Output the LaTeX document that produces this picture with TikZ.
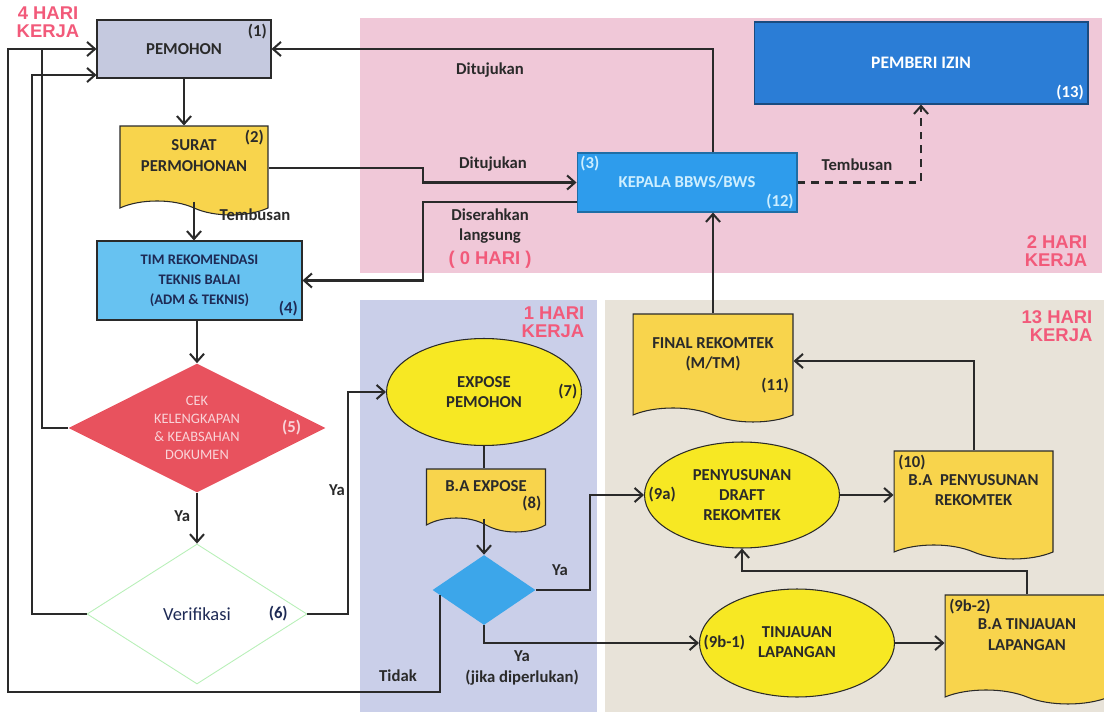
\documentclass[tikz,border=0pt]{standalone}
\usepackage{fontspec}
\setmainfont{Carlito}
\newfontfamily\harifont{Liberation Sans Bold}
\usetikzlibrary{shapes.geometric,shapes.symbols,arrows.meta}
\definecolor{pinkbg}{HTML}{F0C8D8}
\definecolor{lavbg}{HTML}{CACFE9}
\definecolor{beigebg}{HTML}{E8E3D9}
\definecolor{pemfill}{HTML}{C5C9DF}
\definecolor{docyel}{HTML}{F8D44C}
\definecolor{ovalyel}{HTML}{F7E823}
\definecolor{timblue}{HTML}{67C2F1}
\definecolor{kepblue}{HTML}{2E9CEC}
\definecolor{keptext}{HTML}{CDEEFF}
\definecolor{izinblue}{HTML}{2B7DD6}
\definecolor{cekred}{HTML}{E8525E}
\definecolor{cektext}{HTML}{F9D3D8}
\definecolor{diablue}{HTML}{3CA6EA}
\definecolor{verline}{HTML}{B8F0B8}
\definecolor{harired}{HTML}{F25A7A}
\definecolor{navy}{HTML}{1E2A55}
\definecolor{ink}{HTML}{2A2A2A}
\begin{document}
\begin{tikzpicture}[x=0.02cm,y=-0.02cm,
    box/.style={draw=ink,line width=0.6pt,align=center,inner sep=2pt,
      font=\bfseries\fontsize{9.5}{11.5}\selectfont,text=ink},
    doc/.style={box,tape,tape bend top=none,tape bend bottom=out and in,
      tape bend height=0.28cm,fill=docyel,text depth=9pt},
    oval/.style={box,ellipse,inner sep=0pt,fill=ovalyel},
    num/.style={font=\bfseries\fontsize{9.5}{11}\selectfont,inner sep=2.5pt,text=ink},
    lbl/.style={font=\bfseries\fontsize{9.5}{11.5}\selectfont,align=center,text=ink},
    hari/.style={font=\harifont\fontsize{10.5}{10}\selectfont,text=harired},
    link/.style={draw=ink,line width=1.15pt},
    arr/.style={link,-{Straight Barb[length=4.5pt,width=8pt]}}]
  \useasboundingbox (0,0) rectangle (1104,712);
  \fill[pinkbg] (360,18) rectangle (1102,273);
  \fill[lavbg] (360,300) rectangle (597,712);
  \fill[beigebg] (605,300) rectangle (1104,712);
  \path
    (184,49) node[box,fill=pemfill,minimum width=3.48cm,minimum height=1.16cm,
      label={[num,anchor=north east]north east:{(1)}}] (pem){PEMOHON}
    (194,163.5) node[doc,minimum width=2.96cm,minimum height=1.78cm,
      label={[num,anchor=north east]north east:{(2)}}] (srt){SURAT\\PERMOHONAN}
    (199.5,280.5) node[box,fill=timblue,text=navy,minimum width=4.1cm,minimum height=1.58cm,
      font=\bfseries\fontsize{8.3}{11.3}\selectfont,
      label={[num,text=navy,anchor=south east]south east:{(4)}}] (tim){TIM REKOMENDASI\\TEKNIS BALAI\\(ADM \& TEKNIS)}
    (197,428) node[diamond,fill=cekred,minimum width=5.14cm,minimum height=2.58cm,
      inner sep=0pt,shape aspect=2,align=center,text=cektext,
      font=\fontsize{8.2}{10.3}\selectfont,
      label={[num,text=cektext,anchor=east,xshift=-0.4cm]east:{(5)}}] (cek){CEK\\KELENGKAPAN\\\&\ KEABSAHAN\\DOKUMEN}
    (197,614) node[diamond,draw=verline,line width=0.5pt,fill=white,minimum width=4.4cm,
      minimum height=2.8cm,font=\fontsize{10.5}{12}\selectfont,text=navy,
      label={[num,text=navy,anchor=east,xshift=-0.3cm]east:{(6)}}] (ver){Verifikasi}
    (687,182.5) node[box,fill=kepblue,draw=kepblue!70!black,text=keptext,
      minimum width=4.4cm,minimum height=1.18cm,
      label={[num,text=keptext,anchor=north west,inner sep=2pt]north west:{(3)}},
      label={[num,text=keptext,anchor=south east,inner sep=2pt]south east:{(12)}}] (kep){KEPALA BBWS/BWS}
    (921,63) node[box,fill=izinblue,draw=izinblue!60!black,text=white,
      minimum width=6.68cm,minimum height=1.64cm,font=\bfseries\fontsize{10}{12}\selectfont,
      label={[num,text=white,anchor=south east]south east:{(13)}}] (izin){PEMBERI IZIN}
    (484,392) node[oval,minimum width=3.9cm,minimum height=2.14cm,
      label={[num,anchor=east]east:{(7)}}] (exp){EXPOSE\\PEMOHON}
    (486,493.5) node[doc,minimum width=2.38cm,minimum height=1.26cm,
      label={[num,anchor=east,yshift=-0.2cm]east:{(8)}}] (ba8){B.A EXPOSE}
    (484,590) node[diamond,fill=diablue,minimum width=2.06cm,minimum height=1.4cm,inner sep=0pt] (dia){}
    (713,361) node[doc,minimum width=3.2cm,minimum height=2.16cm,
      label={[num,anchor=east,yshift=-0.5cm]east:{(11)}}] (fin){FINAL REKOMTEK\\(M/TM)}
    (742,495) node[oval,minimum width=3.9cm,minimum height=2.12cm,
      label={[num,anchor=west]west:{(9a)}}] (dra){PENYUSUNAN\\DRAFT\\REKOMTEK}
    (973.5,498) node[doc,minimum width=3.18cm,minimum height=2.16cm,
      label={[num,anchor=north west]north west:{(10)}}] (ba10){B.A\ \ PENYUSUNAN\\REKOMTEK}
    (797,643) node[oval,minimum width=3.9cm,minimum height=2.16cm,text height=17pt,
      label={[num,anchor=west]west:{(9b-1)}}] (tin){TINJAUAN\\LAPANGAN}
    (1027,642.5) node[doc,minimum width=3.28cm,minimum height=2.18cm,
      label={[num,anchor=north west]north west:{(9b-2)}}] (b92){B.A TINJAUAN\\LAPANGAN};
  \path
    (490,70) node[lbl] (l1){Ditujukan}
    (493,164) node[lbl] (l2){Ditujukan}
    (490,226) node[lbl] (l3){Diserahkan\\langsung}
    (490,260) node[hari] (l4){( 0 HARI )}
    (857,165) node[lbl] (l5){Tembusan}
    (255,215) node[lbl] (l6){Tembusan}
    (337,490) node[lbl] (l7){Ya}
    (560,570) node[lbl] (l8){Ya}
    (522,668) node[lbl] (l9){Ya\\(jika diperlukan)}
    (398,676) node[lbl] (l10){Tidak}
    (48,22) node[hari,align=center] (h1){4 HARI\\KERJA}
    (1056,251) node[hari,align=right] (h2){2 HARI\\KERJA}
    (553,322) node[hari,align=right] (h3){1 HARI\\KERJA}
    (1057,326) node[hari,align=right] (h4){13 HARI\\KERJA};
  \coordinate (cA) at (8,0);
  \coordinate (cB) at (32,0);
  \coordinate (cC) at (42,0);
  \coordinate (cD) at (348,0);
  \coordinate (cE) at (423,0);
  \coordinate (cF) at (590,0);
  \coordinate (tl) at (8,692);
  \begin{scope}[arr]
    \draw (pem.south) -- (pem.south |- srt.north);
    \draw (srt.south) -- (srt.south |- tim.north);
    \draw (tim.south -| cek.north) -- (cek.north);
    \draw (cek.south) -- node[lbl,left,pos=.45]{Ya} (ver.north);
    \draw ([yshift=-0.09cm]srt.east) -- ([yshift=-0.09cm]srt.east -| cE) |- (kep.west);
    \draw ([yshift=-0.39cm]kep.west) -| (cE |- tim.east) -- (tim.east);
    \draw (fin.north |- kep.north) |- (pem.east);
    \draw[dash pattern=on 4.5pt off 3.4pt] (kep.east) -| (izin.south);
    \draw (fin.north) -- (fin.north |- kep.south);
    \draw (ver.east) -- (ver.east -| cD) |- (exp.west);
    \draw (ba8.south -| dia.north) -- (dia.north);
    \draw (dia.east) -- (dia.east -| cF) |- (dra.west);
    \draw (dia.south) |- (tin.west);
    \draw (dia.187) |- (tl) |- (pem.west);
    \draw (ver.west) -- (ver.west -| cB) |- ([yshift=-0.52cm]pem.west);
    \draw (dra.east) -- (dra.east -| ba10.west);
    \draw (ba10.north) |- (fin.east);
    \draw (tin.east) -- (tin.east -| b92.west);
    \draw (b92.north) -- ++(0,-23) -| (dra.south);
  \end{scope}
  \draw[link] (cek.west) -| (cC |- pem.west);
  \draw[link] (exp.south) -- (exp.south |- ba8.north);
\end{tikzpicture}
\end{document}
